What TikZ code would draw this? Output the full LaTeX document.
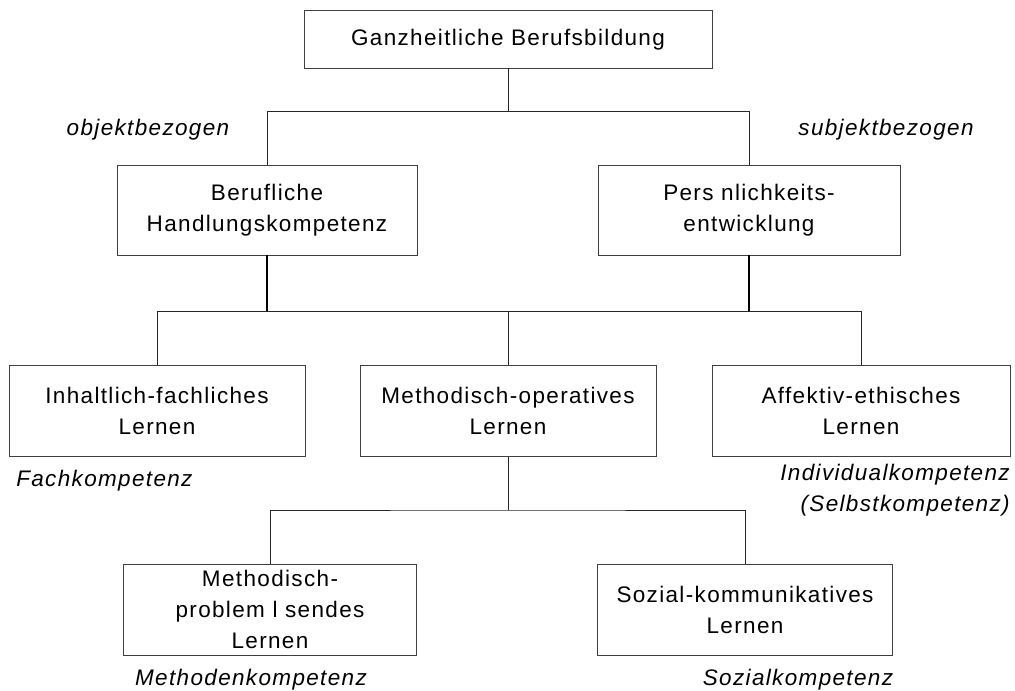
\documentclass[tikz,border=0pt]{standalone}
\usepackage{fontspec}
\setmainfont{Liberation Sans}[LetterSpace=6]
\usepackage{tikz}
\usetikzlibrary{positioning, calc}

\begin{document}
\begin{tikzpicture}[
  box/.style={draw=black!75, line width=0.6pt, minimum height=2.28cm, align=center, inner sep=0pt, font=\fontsize{16}{22}\selectfont},
  comp/.style={font=\fontsize{16}{22}\selectfont\itshape, inner sep=0pt},
  link/.style={line width=0.6pt, black!85},
  trunk/.style={line width=1.4pt, black}
]
\useasboundingbox (0,0) rectangle (25.375,17.275);

% Level 1: whole
\node[box, minimum width=10.2cm, minimum height=1.43cm] (gb) at (12.7, 16.29) {Ganzheitliche Berufsbildung};

% Level 2: object / subject
\node[box, minimum width=7.5cm, minimum height=2.25cm] (bhk) at (6.675, 12.025) {Berufliche\\Handlungskompetenz};
\node[box, minimum width=7.55cm, minimum height=2.25cm] (pe) at (18.725, 12.025) {Pers nlichkeits-\\entwicklung};
\node[comp] (obj) at (3.7, 14.025) {objektbezogen};
\node[comp] (subj) at (22.15, 14.025) {subjektbezogen};

% Level 3: learning fields
\node[box, minimum width=7.4cm] (ifl) at (3.925, 7.0) {Inhaltlich-fachliches\\Lernen};
\node[box, minimum width=7.4cm] (mol) at (12.7, 7.0) {Methodisch-operatives\\Lernen};
\node[box, minimum width=7.45cm] (ael) at (21.525, 7.0) {Affektiv-ethisches\\Lernen};
\node[comp, anchor=west] (fk) at (0.4, 5.25) {Fachkompetenz};
\node[comp, anchor=east, align=right] (ik) at (25.25, 5.02) {Individualkompetenz\\(Selbstkompetenz)};

% Level 4: methodical split
\node[box, minimum width=7.33cm] (mpl) at (6.75, 2.03) {Methodisch-\\problem l sendes\\Lernen};
\node[box, minimum width=7.38cm] (skl) at (18.625, 2.03) {Sozial-kommunikatives\\Lernen};
\node[comp] (mk) at (6.275, 0.275) {Methodenkompetenz};
\node[comp] (sk) at (19.95, 0.275) {Sozialkompetenz};

% Junctions
\coordinate (j1) at (12.7, 14.5);
\coordinate (j2) at (12.7, 9.5);
\coordinate (j3) at (12.7, 4.525);

% Connectors
\draw[link] (gb.south) -- (j1);
\draw[link] (bhk.north) |- (j1) -| (pe.north);
\draw[trunk] (bhk.south) -- (bhk.south |- j2);
\draw[trunk] (pe.south) -- (pe.south |- j2);
\draw[link] (ifl.north) |- (j2) -| (ael.north);
\draw[link] (mol.north) -- (j2);
\draw[link] (mol.south) -- (j3);
\draw[link] (mpl.north) |- (j3) -| (skl.north);

\end{tikzpicture}
\end{document}
